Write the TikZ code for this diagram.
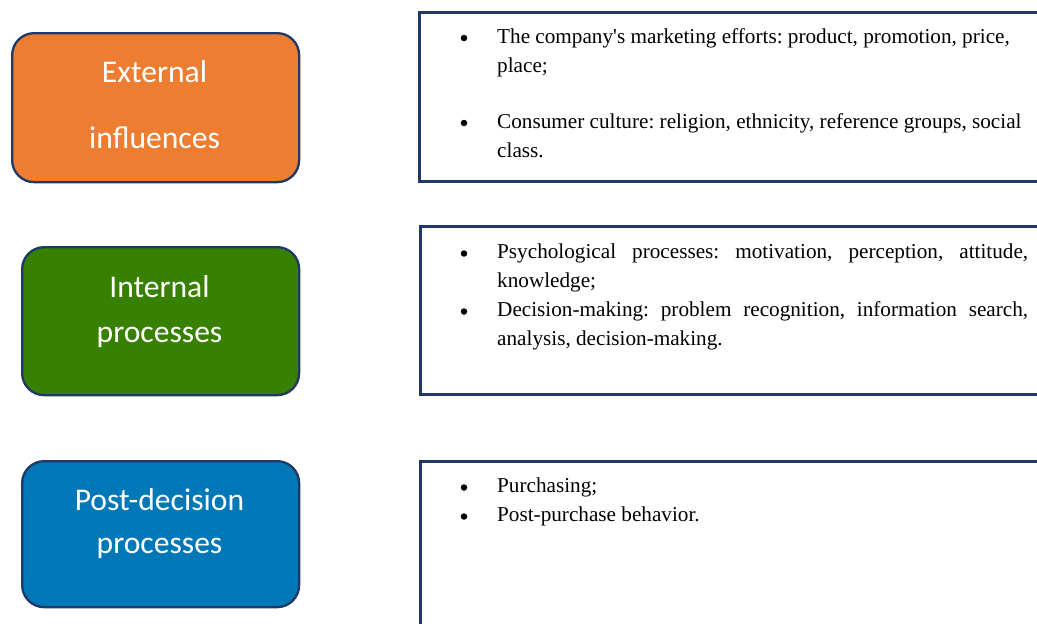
\documentclass[tikz,border=0pt]{standalone}
\usepackage{fontspec}
\setmainfont{Liberation Serif}
\newfontfamily\labelfont{Carlito}

\definecolor{navy}{HTML}{1F3864}
\definecolor{extorange}{HTML}{ED7D31}
\definecolor{intgreen}{HTML}{388100}
\definecolor{postblue}{HTML}{0078B8}

\begin{document}
\frenchspacing
\begin{tikzpicture}[x=1pt,y=-1pt,
  catbox/.style={draw=navy, line width=2.3pt, rounded corners=22pt,
    anchor=north west, inner sep=0pt},
  infobox/.style={draw=navy, line width=2.5pt, anchor=north west, inner sep=0pt},
  cattext/.style={text=white, font=\labelfont\fontsize{31.6}{31.6}\selectfont,
    anchor=base, inner sep=0pt},
  itemtext/.style={font=\fontsize{21.2}{24}\selectfont, anchor=base west, inner sep=0pt},
  bulletdot/.style={circle, fill=black, inner sep=0pt, minimum size=6.5pt}]

\useasboundingbox (0,0) rectangle (1037,624);
\clip (0,0) rectangle (1037,624);

% category boxes
\node[catbox, fill=extorange, minimum width=287pt, minimum height=149pt] (ext) at (11,32) {};
\node[catbox, fill=intgreen, minimum width=277pt, minimum height=148pt] (int) at (21,246) {};
\node[catbox, fill=postblue, minimum width=277pt, minimum height=146pt] (post) at (21,460) {};

\node[cattext] (ext1) at (154.5,82) {External};
\node[cattext] (ext2) at (154.5,148) {influences};
\node[cattext] (int1) at (159.5,297) {Internal};
\node[cattext] (int2) at (159.5,342) {processes};
\node[cattext] (post1) at (159.5,510) {Post-decision};
\node[cattext] (post2) at (159.5,553) {processes};

% description boxes, running off the right edge
\node[infobox, minimum width=640pt, minimum height=169pt] (descA) at (418,11) {};
\node[infobox, minimum width=640pt, minimum height=168pt] (descB) at (419,225) {};
\node[infobox, minimum width=640pt, minimum height=190pt] (descC) at (419,460) {};

% external influences
\node[bulletdot] (bA1) at (464,38) {};
\node[itemtext] (tA1) at (497,43) {The company\textquotesingle s marketing efforts: product, promotion, price,};
\node[itemtext] (tA2) at (497,72) {place;};
\node[bulletdot] (bA2) at (464,123) {};
\node[itemtext] (tA3) at (497,128) {Consumer culture: religion, ethnicity, reference groups, social};
\node[itemtext] (tA4) at (497,157) {class.};

% internal processes
\node[bulletdot] (bB1) at (464,253.5) {};
\node[itemtext] (tB1) at (497,258) {\makebox[531pt][s]{Psychological processes: motivation, perception, attitude,}};
\node[itemtext] (tB2) at (497,287) {knowledge;};
\node[bulletdot] (bB2) at (464,311.5) {};
\node[itemtext] (tB3) at (497,316) {\makebox[531pt][s]{Decision-making: problem recognition, information search,}};
\node[itemtext] (tB4) at (497,345) {analysis, decision-making.};

% post-decision processes
\node[bulletdot] (bC1) at (464,487.5) {};
\node[itemtext] (tC1) at (497,492) {Purchasing;};
\node[bulletdot] (bC2) at (464,516.5) {};
\node[itemtext] (tC2) at (497,521) {Post-purchase behavior.};
\end{tikzpicture}
\end{document}
